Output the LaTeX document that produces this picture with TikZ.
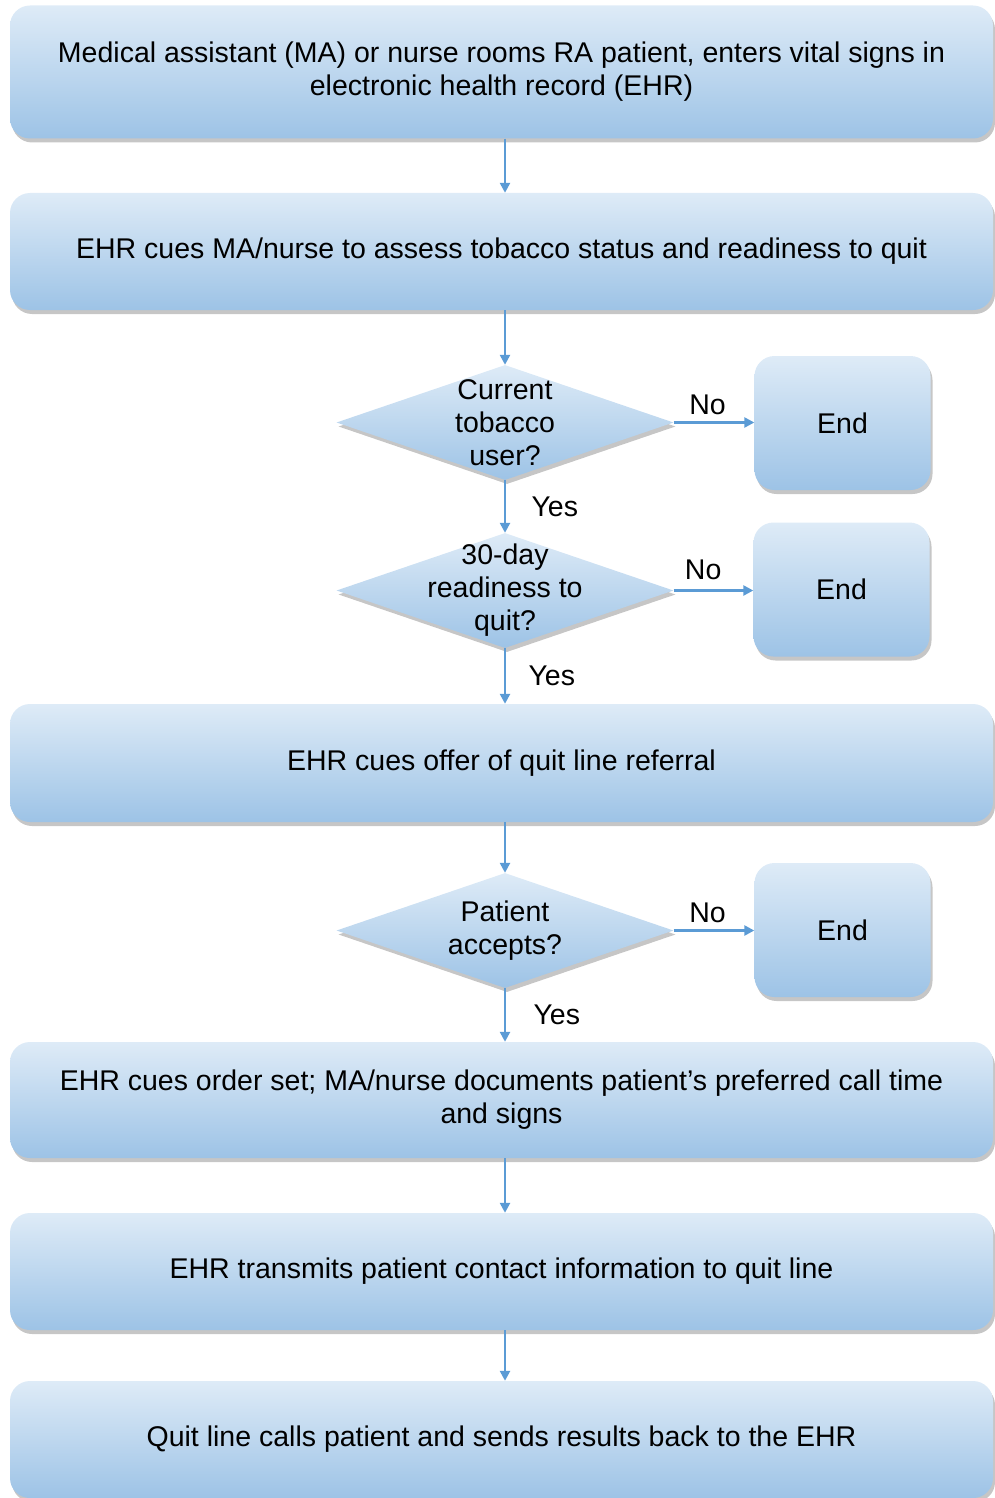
\documentclass[tikz,border=0pt]{standalone}
\usepackage{fontspec}
\setmainfont{Liberation Sans}
\usetikzlibrary{shapes.geometric, arrows.meta, shadows}
\definecolor{boxtop}{RGB}{222,235,247}
\definecolor{boxbottom}{RGB}{157,195,230}
\definecolor{flowblue}{RGB}{91,155,213}

\begin{document}
\begin{tikzpicture}[x=1pt, y=-1pt, >={Triangle[length=10pt, width=10pt]},
    every node/.style={font=\fontsize{28.5}{33}\selectfont, align=center},
    shade/.style={top color=boxtop, bottom color=boxbottom, draw=none,
        drop shadow={opacity=0.45, shadow xshift=2pt, shadow yshift=-4pt}},
    stepbox/.style={shade, rectangle, rounded corners=20pt, minimum width=983pt},
    endbox/.style={shade, rectangle, rounded corners=20pt, minimum width=176pt, minimum height=134pt},
    decision/.style={shade, diamond, inner sep=0pt, minimum width=337pt, minimum height=115pt, shape aspect=2.93},
    flow/.style={->, draw=flowblue, line width=2.4pt}]
    \useasboundingbox (0,0) rectangle (995,1498);

    % Main column (x=501.5)
    \node[stepbox, minimum height=133pt] (ma) at (501.5, 72) {Medical assistant (MA) or nurse rooms RA patient, enters vital signs in\\electronic health record (EHR)};
    \node[stepbox, minimum height=117pt] (assess) at (501.5, 251.5) {EHR cues MA/nurse to assess tobacco status and readiness to quit};
    \node[stepbox, minimum height=118pt] (offer) at (501.5, 763) {EHR cues offer of quit line referral};
    \node[stepbox, minimum height=116pt] (order) at (501.5, 1100) {EHR cues order set; MA/nurse documents patient’s preferred call time\\and signs};
    \node[stepbox, minimum height=117pt] (transmit) at (501.5, 1271.5) {EHR transmits patient contact information to quit line};
    \node[stepbox, minimum height=117pt] (calls) at (501.5, 1439.5) {Quit line calls patient and sends results back to the EHR};

    % Decisions (x=505)
    \node[decision, label={[align=center]center:Current\\tobacco\\user?}] (user) at (505, 422.5) {};
    \node[decision, label={[align=center]center:30-day\\readiness to\\quit?}] (ready) at (505, 590.5) {};
    \node[decision, label={[align=center]center:Patient\\accepts?}] (accepts) at (505, 930.5) {};

    % End boxes (x=842)
    \node[endbox] (end1) at (842.5, 423) {End};
    \node[endbox] (end2) at (841.5, 589.5) {End};
    \node[endbox] (end3) at (842.5, 930) {End};

    % Vertical arrows
    \draw[flow] (ma.south -| user.north) -- (assess.north -| user.north);
    \draw[flow] (assess.south -| user.north) -- (user.north);
    \draw[flow] (user.south) -- node[right=22pt] {Yes} (ready.north);
    \draw[flow] (ready.south) -- node[right=19pt] {Yes} (offer.north -| ready.south);
    \draw[flow] (offer.south -| accepts.north) -- (accepts.north);
    \draw[flow] (accepts.south) -- node[right=24pt] {Yes} (order.north -| accepts.south);
    \draw[flow] (order.south -| accepts.north) -- (transmit.north -| accepts.north);
    \draw[flow] (transmit.south -| accepts.north) -- (calls.north -| accepts.north);

    % No arrows
    \draw[flow] (user.east) -- node[above=3pt, pos=0.42] {No} (end1.west |- user.east);
    \draw[flow] (ready.east) -- node[above=6pt, pos=0.37] {No} (end2.west |- ready.east);
    \draw[flow] (accepts.east) -- node[above=3pt, pos=0.42] {No} (end3.west |- accepts.east);
\end{tikzpicture}
\end{document}
